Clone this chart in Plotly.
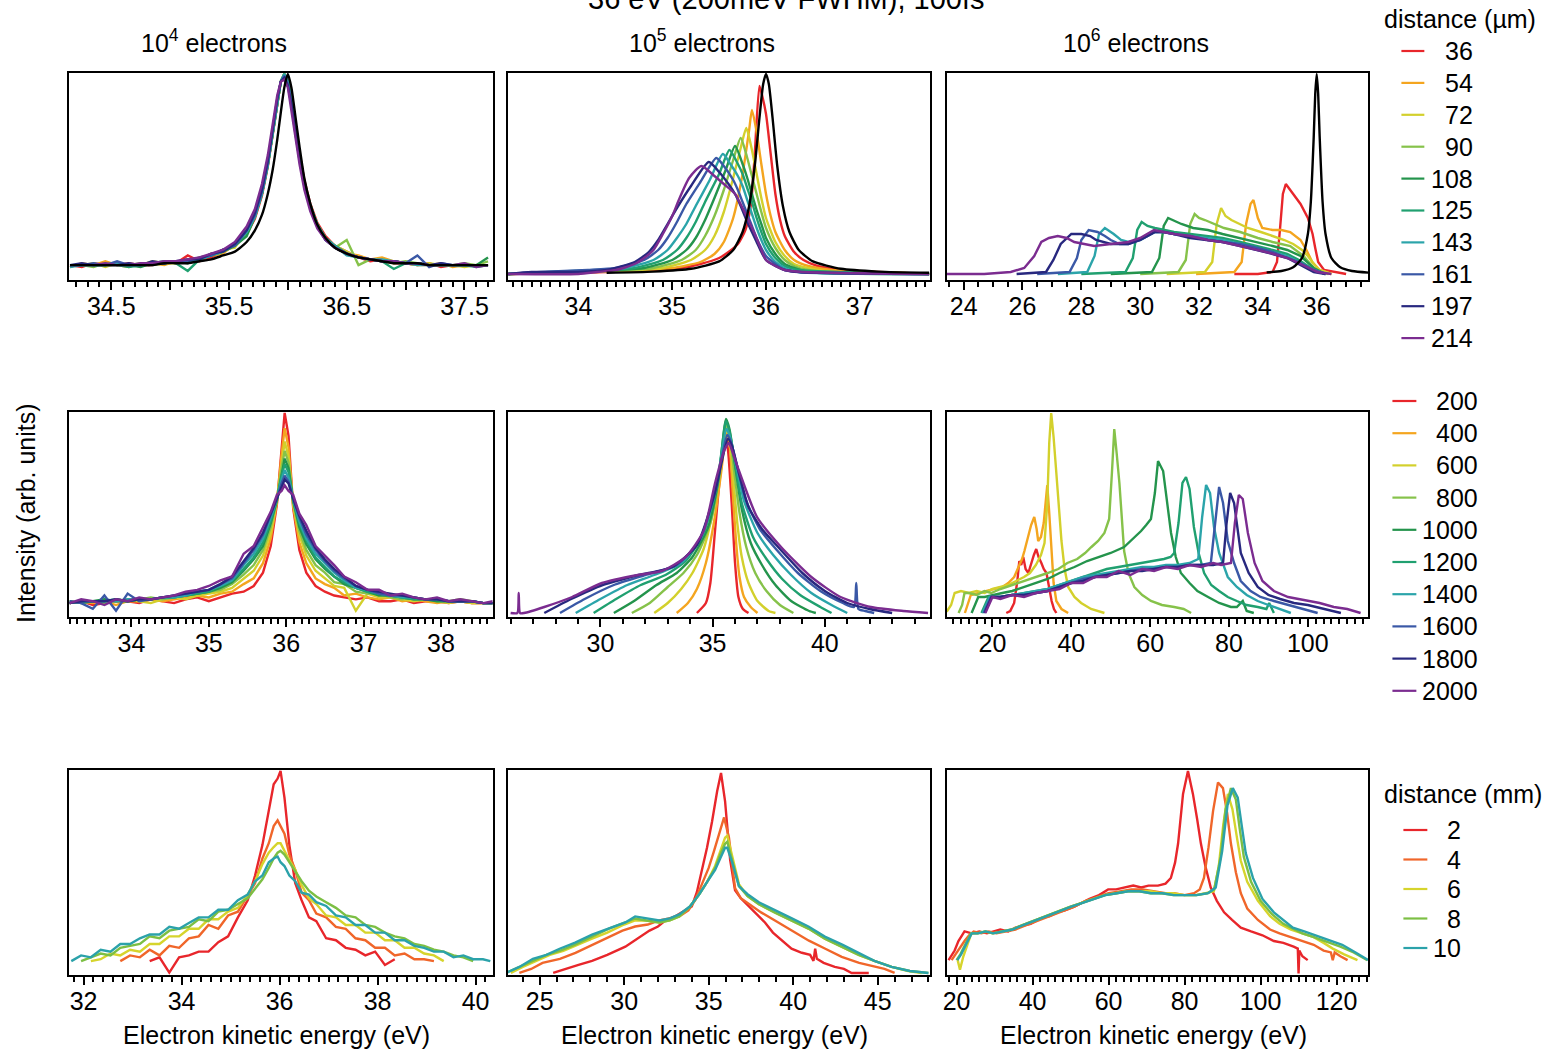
import plotly.graph_objects as go

W, H = 1558, 1053
FONT = "Liberation Sans, Arial, Helvetica, sans-serif"
FS = 25

# ---------------------------------------------------------------- series labels
UM_LABELS = ["36", "54", "72", "90", "108", "125", "143", "161", "197", "214"]
ROW2_LABELS = ["200", "400", "600", "800", "1000", "1200", "1400", "1600", "1800", "2000"]
MM_LABELS = ["2", "4", "6", "8", "10"]
COL_TITLES = ["10<sup>4</sup> electrons", "10<sup>5</sup> electrons", "10<sup>6</sup> electrons"]

RAINBOW10 = ["#e8262b", "#f4a51f", "#d3d02c", "#86c24a", "#24944c",
             "#20a070", "#2ba4aa", "#3a58a6", "#28287f", "#7b2c90"]
RAINBOW5 = ["#e8262b", "#f0662a", "#d6d42c", "#7cbf44", "#2ba2aa"]

# ---------------------------------------------------------------- 10^4 electrons, 36-214 um
A_X = [34.15, 34.25, 34.35, 34.45, 34.55, 34.65, 34.75, 34.85, 34.95, 35.05, 35.15, 35.25, 35.35,
       35.45, 35.55, 35.65, 35.72, 35.78, 35.83, 35.87, 35.91, 35.94, 35.97, 36.0, 36.03, 36.06,
       36.1, 36.14, 36.19, 36.25, 36.32, 36.4, 36.5, 36.6, 36.7, 36.8, 36.9, 37.0, 37.1, 37.2,
       37.3, 37.4, 37.5, 37.6, 37.7]
A_Y = [
    [1, 0, 2, 1, 1, 2, 1, 1, 3, 2, 6, 3, 5, 8, 11, 17, 25, 37, 52, 68, 85, 96, 99, 97, 88, 75, 59, 45, 33, 23, 16, 11, 8, 5, 3, 4, 2, 2, 1, 2, 0, 1, 1, 1, 1],
    [0, 2, 1, 3, 1, 0, 2, 2, 1, 3, 3, 5, 6, 7, 12, 17, 26, 38, 53, 69, 86, 96, 100, 96, 86, 73, 57, 44, 32, 22, 15, 11, 7, 6, 4, 5, 3, 2, 1, 1, 2, 0, 1, 1, 1],
    [1, 1, 2, 0, 2, 1, 1, 3, 2, 2, 4, 4, 6, 9, 10, 19, 26, 39, 54, 70, 86, 96, 100, 96, 86, 73, 57, 44, 32, 22, 15, 11, 8, 5, 4, 3, 3, 2, 1, 2, 1, 1, 0, 1, 1],
    [1, 1, 0, 2, 1, 1, 2, 1, 2, 3, 3, 4, 7, 8, 11, 18, 27, 38, 53, 69, 86, 96, 99, 96, 86, 73, 57, 44, 32, 22, 15, 10, 14, 1, 4, 3, 2, 3, 2, 1, 1, 1, 2, 1, 3],
    [1, 1, 1, 1, 2, 1, 0, 2, 2, 3, 2, 4, 6, 8, 11, 16, 26, 38, 53, 69, 86, 96, 100, 96, 86, 73, 57, 44, 32, 22, 15, 11, 7, 5, 4, 3, 3, 2, 2, 1, 1, 1, 1, 1, 5],
    [1, 1, 1, 1, 1, 0, 1, 2, 3, 2, -2, 4, 6, 9, 11, 18, 26, 38, 53, 69, 86, 96, 100, 96, 86, 73, 57, 44, 32, 22, 15, 11, 7, 5, 4, 3, -1, 2, 2, 1, 1, 1, 1, 0, 1],
    [0, 1, 1, 1, 2, 1, 1, 2, 2, 3, 3, 4, 6, 8, 12, 18, 26, 38, 53, 69, 86, 96, 100, 96, 86, 73, 57, 44, 32, 22, 15, 11, 6, 5, 4, 4, 3, 2, 1, 1, 1, 1, 1, 1, 1],
    [1, 1, 2, 1, 3, 1, 1, 2, 2, 3, 3, 5, 6, 9, 11, 19, 27, 39, 54, 70, 87, 96, 99, 95, 85, 72, 56, 43, 31, 21, 14, 10, 7, 5, 4, 3, 3, 2, 6, 0, 2, 1, 1, 1, 1],
    [1, 2, 1, 1, 1, 2, 1, 3, 2, 3, 4, 4, 7, 8, 12, 19, 28, 40, 55, 71, 87, 96, 98, 94, 84, 71, 55, 42, 31, 21, 14, 10, 7, 5, 4, 3, 3, 2, 2, 1, 2, 1, 1, 1, 1],
    [1, 1, 1, 2, 1, 1, 2, 2, 3, 3, 4, 5, 7, 9, 13, 21, 30, 43, 58, 74, 89, 96, 97, 93, 82, 69, 53, 40, 29, 20, 14, 10, 7, 5, 4, 3, 3, 2, 2, 1, 1, 1, 2, 0, 1],
]
A_REF = [1, 1, 1, 1, 1, 1, 1, 1, 2, 2, 2, 3, 4, 6, 8, 13, 19, 27, 38, 50, 66, 80, 93, 100, 93, 80,
         62, 46, 33, 22, 15, 10, 7, 5, 4, 3, 2, 2, 2, 1, 1, 1, 1, 1, 1]

# ---------------------------------------------------------------- 10^5 electrons, 36-214 um
B_X = [
    [33.25, 34.3, 34.8, 35.1, 35.3, 35.5, 35.6, 35.7, 35.78, 35.84, 35.88, 35.93, 35.96, 36.0, 36.05, 36.1, 36.15, 36.2, 36.3, 36.4, 36.55, 36.8, 37.2, 37.74],
    [33.25, 34.2, 34.7, 35.0, 35.3, 35.45, 35.55, 35.65, 35.75, 35.82, 35.85, 35.9, 35.95, 36.0, 36.05, 36.1, 36.2, 36.3, 36.45, 36.7, 37.1, 37.74],
    [33.25, 34.1, 34.6, 34.9, 35.2, 35.35, 35.45, 35.55, 35.65, 35.73, 35.79, 35.85, 35.9, 35.95, 36.0, 36.1, 36.2, 36.3, 36.45, 36.7, 37.1, 37.74],
    [33.25, 34.0, 34.5, 34.8, 35.1, 35.25, 35.35, 35.45, 35.55, 35.65, 35.73, 35.8, 35.85, 35.9, 35.95, 36.0, 36.1, 36.2, 36.3, 36.45, 36.7, 37.74],
    [33.25, 33.9, 34.4, 34.7, 35.0, 35.15, 35.25, 35.35, 35.45, 35.57, 35.67, 35.75, 35.8, 35.85, 35.9, 35.95, 36.0, 36.1, 36.2, 36.3, 36.45, 37.74],
    [33.25, 33.8, 34.3, 34.6, 34.9, 35.05, 35.15, 35.25, 35.35, 35.5, 35.61, 35.7, 35.75, 35.8, 35.85, 35.9, 35.95, 36.0, 36.1, 36.2, 36.35, 37.74],
    [33.25, 33.7, 34.2, 34.5, 34.8, 34.95, 35.05, 35.15, 35.25, 35.4, 35.54, 35.62, 35.7, 35.75, 35.8, 35.85, 35.9, 35.95, 36.0, 36.1, 36.2, 36.35, 37.74],
    [33.25, 33.6, 34.1, 34.4, 34.7, 34.85, 34.95, 35.05, 35.15, 35.3, 35.47, 35.55, 35.65, 35.7, 35.75, 35.8, 35.85, 35.9, 35.95, 36.0, 36.1, 36.2, 36.35, 37.74],
    [33.25, 33.5, 34.0, 34.3, 34.6, 34.75, 34.85, 34.95, 35.05, 35.2, 35.39, 35.5, 35.6, 35.67, 35.73, 35.8, 35.85, 35.9, 35.95, 36.0, 36.1, 36.2, 36.35, 37.74],
    [33.25, 34.0, 34.2, 34.4, 34.6, 34.7, 34.8, 34.9, 35.0, 35.07, 35.18, 35.31, 35.45, 35.55, 35.67, 35.75, 35.88, 35.95, 36.0, 36.1, 36.2, 36.4, 37.74],
]
B_Y = [
    [0, 1, 2, 3, 5, 8, 11, 15, 22, 35, 60, 94, 89, 80, 60, 40, 27, 19, 11, 7, 4, 2, 1, 0],
    [0, 1, 2, 3, 6, 10, 16, 28, 50, 72, 82, 71, 55, 40, 29, 21, 12, 7, 4, 2, 1, 0],
    [0, 1, 2, 3, 7, 12, 19, 31, 48, 63, 73, 62, 50, 38, 28, 16, 9, 5, 3, 1, 1, 0],
    [0, 1, 2, 3, 7, 12, 19, 29, 42, 57, 68, 58, 49, 40, 31, 23, 13, 7, 4, 2, 1, 0],
    [0, 1, 2, 3, 7, 12, 18, 27, 38, 52, 64, 55, 48, 40, 32, 25, 18, 10, 5, 3, 1, 0],
    [0, 1, 2, 3, 7, 12, 18, 26, 36, 50, 62, 55, 50, 43, 36, 28, 21, 15, 8, 4, 2, 0],
    [0, 1, 2, 3, 7, 12, 18, 25, 34, 47, 60, 55, 49, 44, 37, 30, 23, 17, 12, 6, 3, 1, 0],
    [0, 1, 2, 3, 7, 12, 18, 26, 35, 46, 58, 54, 47, 42, 36, 30, 24, 18, 13, 9, 5, 2, 1, 0],
    [0, 1, 1, 2, 6, 11, 17, 25, 33, 44, 56, 51, 45, 40, 34, 26, 21, 16, 11, 7, 4, 2, 1, 0],
    [0, 0, 1, 2, 5, 8, 12, 20, 29, 37, 48, 54, 49, 45, 40, 33, 20, 12, 7, 4, 2, 1, 0],
]
B_REF_X = [34.3, 34.8, 35.2, 35.5, 35.65, 35.75, 35.82, 35.88, 35.93, 35.97, 36.0, 36.03, 36.07,
           36.12, 36.18, 36.25, 36.35, 36.5, 36.8, 37.2, 37.74]
B_REF_Y = [0.6, 1.2, 2.6, 6.3, 12, 21, 34, 54, 78, 95, 100, 95, 78, 54, 34, 21, 12, 6.3, 2.6, 1.2, 0.6]

# ---------------------------------------------------------------- 10^6 electrons, 36-214 um
C_X = [
    [33.2, 34.0, 34.5, 34.65, 34.75, 34.85, 34.95, 35.05, 35.2, 35.45, 35.7, 35.86, 35.95, 36.05, 36.25, 36.6, 37.0],
    [31.9, 33.2, 33.45, 33.6, 33.75, 33.85, 34.0, 34.15, 34.5, 34.8, 35.1, 35.45, 35.65, 35.85, 36.1, 36.5],
    [30.9, 32.2, 32.45, 32.6, 32.75, 32.9, 33.1, 33.4, 33.66, 34.1, 34.5, 34.9, 35.2, 35.5, 35.7, 35.9, 36.1, 36.5],
    [30.0, 31.3, 31.55, 31.7, 31.85, 32.0, 32.2, 32.5, 32.85, 33.4, 34.0, 34.5, 35.1, 35.55, 35.9, 36.1, 36.4],
    [29.0, 30.4, 30.65, 30.8, 30.95, 31.1, 31.4, 31.8, 32.3, 32.8, 33.4, 34.0, 34.5, 35.0, 35.45, 35.9, 36.3],
    [28.0, 29.5, 29.75, 29.9, 30.05, 30.25, 30.5, 30.8, 31.15, 31.7, 32.3, 32.8, 33.4, 34.0, 34.5, 35.0, 35.4, 35.9, 36.3],
    [27.2, 28.2, 28.45, 28.6, 28.8, 29.1, 29.35, 29.6, 30.0, 30.5, 30.8, 31.15, 31.7, 32.3, 32.8, 33.4, 34.0, 34.5, 35.0, 35.4, 35.9, 36.3],
    [26.5, 27.6, 27.85, 28.0, 28.25, 28.55, 28.8, 29.0, 29.3, 29.6, 30.0, 30.5, 30.8, 31.15, 31.7, 32.3, 32.8, 33.4, 34.0, 34.5, 35.0, 35.4, 35.9, 36.3],
    [25.8, 26.8, 27.05, 27.3, 27.66, 28.0, 28.3, 28.5, 29.0, 29.6, 30.0, 30.5, 30.8, 31.15, 31.7, 32.3, 32.8, 33.4, 34.0, 34.5, 35.0, 35.4, 35.9, 36.3],
    [23.42, 24.7, 25.6, 26.06, 26.4, 26.64, 26.9, 27.2, 27.5, 27.76, 28.1, 28.44, 29.0, 29.6, 30.0, 30.47, 30.8, 31.15, 31.7, 32.3, 32.8, 33.42, 34.0, 34.54, 35.0, 35.45, 36.03, 36.5],
]
C_Y = [
    [0, 0, 1, 6, 22, 40, 45, 43, 40, 35, 28, 20, 13, 6, 2, 1, 0],
    [0, 1, 6, 25, 35, 37, 28, 23, 22, 22, 21, 17, 12, 6, 2, 0],
    [0, 1, 6, 25, 33, 29, 27, 25, 23, 21, 19, 17, 15, 12, 9, 5, 2, 0],
    [0, 1, 7, 25, 30, 28, 27, 25, 23, 21, 18, 16, 14, 9, 3, 1, 0],
    [0, 1, 8, 24, 28, 27, 25, 23, 22, 20, 18, 16, 14, 12, 9, 3, 0],
    [0, 1, 8, 22, 26, 24, 23, 22, 21, 20, 19, 18, 16, 14, 12, 10, 7, 2, 0],
    [0, 1, 9, 20, 23, 20, 17, 16, 17, 21, 21, 20, 19, 18, 17, 15, 13, 11, 9, 6, 2, 0],
    [0, 1, 8, 17, 22, 21, 19, 17, 15, 15, 17, 21, 21, 20, 19, 17, 16, 15, 13, 11, 8, 6, 2, 0],
    [0, 1, 7, 15, 20, 20, 19, 17, 15, 15, 17, 21, 21, 20, 18, 17, 16, 14, 12, 10, 8, 5, 1, 0],
    [0, 0, 1, 3, 9, 16, 18, 19, 18, 16, 15, 14, 15, 16, 18, 22, 21, 20, 19, 17, 16, 14, 12, 10, 8, 5, 1, 0],
]
C_REF_X = [34.3, 34.8, 35.2, 35.5, 35.7, 35.8, 35.9, 35.95, 36.0, 36.05, 36.1, 36.2, 36.3, 36.5, 36.8, 37.2, 37.76]
C_REF_Y = [0.8, 1.5, 3.4, 8, 20, 36, 69, 90, 100, 90, 69, 36, 20, 8, 3.4, 1.5, 0.7]

# ---------------------------------------------------------------- 10^4 electrons, 200-2000
D_X = [33.2, 33.35, 33.5, 33.65, 33.8, 33.95, 34.1, 34.25, 34.4, 34.55, 34.7, 34.85, 35.0, 35.15,
       35.3, 35.45, 35.58, 35.7, 35.8, 35.88, 35.94, 35.98, 36.03, 36.09, 36.17, 36.26, 36.38,
       36.5, 36.62, 36.75, 36.9, 37.05, 37.2, 37.35, 37.5, 37.65, 37.8, 37.95, 38.1, 38.25, 38.4,
       38.55, 38.67]
D_Y = [
    [0, 1, -1, 0, 1, 1, 0, 2, 1, 0, 2, 3, 1, 3, 5, 6, 9, 16, 30, 52, 82, 100, 88, 50, 28, 16, 9, 6, 4, 3, 2, 3, 1, 1, 2, 0, 1, 1, 0, 1, 0, 0, 0],
    [0, 1, 0, 1, -1, 1, 1, 2, 1, 2, 3, 4, 3, 5, 6, 10, 13, 21, 34, 53, 78, 92, 82, 51, 32, 21, 13, 10, 8, 4, 5, 3, 2, 3, 1, 2, 1, 0, 1, 1, 0, 0, 0],
    [1, 0, 1, 0, 1, 2, 1, 0, 2, 3, 2, 4, 5, 6, 8, 13, 17, 25, 37, 54, 74, 85, 77, 52, 36, 25, 17, 13, 9, 8, -4, 5, 3, 3, 2, 1, 2, 1, 0, 1, 0, 0, 0],
    [0, 1, 1, 0, 2, 1, 2, 3, 2, 3, 4, 5, 6, 7, 10, 15, 20, 28, 40, 54, 71, 80, 74, 53, 38, 28, 20, 16, 11, 10, 6, 5, 5, 3, 2, 3, 2, 1, 1, 2, 1, 0, 0],
    [0, 1, 1, 2, 1, 1, 2, 2, 3, 3, 4, 5, 6, 8, 11, 17, 23, 30, 42, 54, 68, 76, 71, 54, 40, 31, 23, 18, 14, 10, 8, 6, 4, 4, 3, 2, 2, 1, 1, 1, 1, 0, 0],
    [1, 0, 1, 1, 2, 1, 2, 2, 3, 3, 4, 5, 6, 9, 12, 18, 24, 32, 43, 55, 67, 73, 69, 54, 42, 33, 24, 19, 14, 11, 8, 6, 5, 4, 3, 2, 2, 2, 1, 1, 1, 0, 0],
    [0, 1, 1, 1, 1, 2, 2, 2, 3, 3, 4, 6, 7, 9, 12, 20, 26, 34, 45, 55, 65, 70, 66, 55, 43, 34, 26, 21, 16, 12, 8, 7, 5, 4, 3, 3, 2, 2, 1, 1, 1, 0, 0],
    [1, 0, -3, 4, -4, 5, 1, 2, 3, 4, 5, 6, 7, 10, 13, 21, 28, 36, 46, 55, 63, 67, 64, 55, 45, 36, 28, 22, 17, 13, 9, 7, 5, 4, 4, 3, 2, 2, 1, 1, 1, 0, 0],
    [0, 1, 1, 1, 2, 1, 2, 2, 3, 4, 5, 6, 7, 10, 14, 22, 29, 37, 47, 56, 62, 65, 63, 55, 46, 38, 29, 23, 18, 14, 9, 7, 6, 5, 4, 3, 2, 2, 1, 1, 1, 0, 0],
    [0, 2, 1, -1, 2, 1, 3, 2, 3, 4, 6, 7, 9, 12, 14, 26, 30, 40, 48, 57, 59, 62, 59, 57, 47, 41, 30, 25, 20, 14, 11, 7, 7, 4, 5, 3, 2, 3, 1, 2, 1, 0, 1],
]

# ---------------------------------------------------------------- 10^5 electrons, 200-2000
E_X = [
    [34.3, 34.7, 34.9, 35.1, 35.3, 35.5, 35.6, 35.7, 35.85, 36.0, 36.15, 36.35, 36.6],
    [33.4, 33.9, 34.3, 34.7, 35.1, 35.4, 35.6, 35.75, 35.9, 36.05, 36.2, 36.4, 36.7, 37.0],
    [32.4, 33.0, 33.6, 34.1, 34.6, 35.0, 35.35, 35.6, 35.75, 35.9, 36.1, 36.3, 36.6, 37.0, 37.5, 37.8],
    [31.4, 32.2, 33.0, 33.7, 34.3, 34.9, 35.3, 35.6, 35.75, 35.95, 36.2, 36.5, 36.9, 37.4, 38.0, 38.6],
    [30.6, 31.5, 32.5, 33.4, 34.1, 34.8, 35.25, 35.6, 35.75, 36.0, 36.3, 36.7, 37.2, 37.8, 38.5, 39.3, 39.6],
    [29.7, 30.7, 31.8, 32.9, 33.8, 34.6, 35.2, 35.6, 35.75, 36.0, 36.3, 36.8, 37.4, 38.1, 38.9, 39.8, 40.3],
    [28.9, 30.0, 31.2, 32.4, 33.6, 34.5, 35.15, 35.62, 35.78, 36.05, 36.4, 37.0, 37.7, 38.5, 39.4, 40.3, 41.0],
    [28.2, 29.3, 30.6, 32.0, 33.4, 34.4, 35.1, 35.65, 35.8, 36.1, 36.5, 37.1, 37.9, 38.8, 39.8, 40.8, 41.3, 41.4, 41.5, 41.8, 42.2],
    [27.5, 28.7, 30.1, 31.7, 33.2, 34.3, 35.1, 35.68, 35.85, 36.15, 36.6, 37.2, 38.0, 39.0, 40.0, 41.0, 42.0, 43.0],
    [26.0, 26.3, 26.36, 26.42, 26.6, 27.5, 28.74, 30.07, 31.67, 32.74, 33.8, 34.6, 35.11, 35.51, 35.72, 35.9, 36.18, 36.98, 38.05, 39.4, 40.7, 42.05, 43.5, 44.6],
]
E_Y = [
    [0, 5, 15, 40, 65, 82, 88, 80, 55, 25, 8, 2, 0],
    [0, 5, 12, 25, 48, 72, 90, 85, 60, 35, 18, 8, 3, 0],
    [0, 5, 12, 20, 32, 50, 72, 92, 88, 70, 45, 28, 15, 6, 1, 0],
    [0, 5, 13, 20, 29, 45, 68, 94, 90, 72, 50, 33, 20, 11, 4, 0],
    [0, 6, 14, 20, 28, 43, 66, 97, 92, 74, 52, 35, 24, 14, 6, 1, 0],
    [0, 7, 14, 19, 26, 40, 64, 96, 91, 75, 55, 38, 27, 17, 9, 3, 0],
    [0, 7, 14, 19, 25, 38, 62, 92, 88, 74, 56, 40, 29, 19, 10, 4, 0],
    [0, 7, 14, 19, 24, 36, 60, 89, 86, 73, 56, 42, 31, 20, 11, 5, 3, 15, 2, 1, 0],
    [0, 7, 14, 19, 23, 34, 60, 87, 84, 71, 53, 42, 32, 20, 11, 5, 2, 0],
    [0, 0, 10, 0, 0, 3, 8, 15, 19, 21, 28, 41, 65, 81, 85, 80, 71, 48, 33, 18, 8, 3, 1, 0],
]

# ---------------------------------------------------------------- 10^6 electrons, 200-2000
F_X = [
    [23.5, 24.5, 25.5, 26.3, 26.8, 27.3, 27.8, 28.4, 29.1, 29.8, 30.5, 31.1, 31.7, 32.4, 33.0, 33.7, 34.3, 35.0, 35.6, 36.2],
    [13.0, 14.5, 16.5, 18.5, 20.5, 22.5, 24.0, 25.5, 26.6, 27.5, 28.1, 29.0, 29.8, 30.6, 31.2, 31.6, 32.3, 33.0, 33.5, 33.9, 34.4, 34.9, 35.5, 36.2, 37.5, 39.2],
    [7.0, 8.5, 9.5, 10.4, 12.0, 14.0, 16.0, 18.0, 20.0, 22.0, 24.0, 26.0, 28.0, 29.5, 31.0, 32.3, 33.2, 33.9, 34.4, 34.9, 35.5, 36.2, 36.9, 37.5, 38.3, 39.2, 40.8, 42.5, 45.0, 48.4],
    [11.4, 12.3, 12.9, 14.0, 16.0, 18.0, 19.7, 22.0, 25.0, 28.1, 31.0, 34.0, 36.7, 39.0, 41.5, 43.5, 45.1, 46.8, 48.4, 49.6, 50.3, 50.9, 51.5, 52.2, 53.4, 54.5, 56.0, 58.0, 60.2, 63.0, 66.1, 68.5, 70.4],
    [14.7, 15.6, 16.4, 18.0, 20.0, 22.5, 25.0, 28.1, 31.0, 34.0, 37.0, 40.8, 44.0, 47.0, 50.0, 53.4, 55.5, 57.7, 59.0, 60.2, 61.2, 62.0, 63.3, 64.3, 65.3, 66.5, 67.8, 70.0, 72.0, 74.7, 77.5, 80.5, 82.0, 83.5, 84.5, 86.3],
    [17.2, 18.2, 19.0, 22.0, 25.0, 28.0, 31.0, 34.0, 37.0, 40.0, 43.0, 46.0, 49.0, 52.0, 55.0, 58.0, 61.0, 63.5, 65.2, 66.1, 67.2, 68.2, 69.1, 70.0, 71.1, 72.3, 73.7, 75.5, 77.5, 79.7, 82.0, 84.5, 87.3, 89.5, 90.2, 91.4],
    [17.5, 18.5, 19.3, 22.0, 25.0, 28.0, 31.0, 34.0, 37.0, 40.0, 43.0, 46.0, 49.0, 52.0, 55.0, 58.0, 61.0, 64.0, 67.0, 70.0, 72.2, 73.2, 74.2, 75.2, 76.2, 77.5, 79.7, 82.0, 84.5, 87.3, 90.0, 93.0, 95.7],
    [17.8, 18.8, 19.6, 22.0, 25.0, 28.0, 31.0, 34.0, 37.0, 40.0, 43.0, 46.0, 49.0, 52.0, 55.0, 58.0, 61.0, 64.0, 67.0, 70.0, 73.0, 75.4, 76.5, 77.5, 78.5, 79.7, 81.3, 83.0, 85.5, 88.0, 91.4, 95.0, 99.0, 102.5],
    [18.0, 19.0, 19.8, 22.0, 25.0, 28.0, 31.0, 34.0, 37.0, 40.0, 43.0, 46.0, 49.0, 52.0, 55.0, 58.0, 61.0, 64.0, 67.0, 70.0, 73.0, 76.0, 78.5, 79.4, 80.3, 81.3, 83.0, 85.0, 87.3, 90.0, 93.0, 96.5, 100.0, 104.0, 108.4],
    [18.2, 19.2, 20.0, 22.0, 25.0, 28.0, 31.0, 34.0, 37.0, 40.0, 43.0, 46.0, 49.0, 52.0, 55.0, 58.0, 61.0, 64.0, 67.0, 70.0, 73.0, 76.0, 78.0, 80.5, 81.5, 82.5, 83.5, 84.8, 86.5, 88.5, 91.4, 95.0, 100.0, 103.0, 106.6, 110.0, 113.4],
]
F_Y = [
    [0, 1, 5, 16, 26, 24, 28, 22, 20, 25, 29, 32, 28, 25, 22, 20, 14, 6, 2, 0],
    [0, 9, 10, 11, 12, 13, 15, 18, 23, 27, 31, 38, 44, 48, 42, 36, 38, 45, 56, 64, 50, 31, 15, 6, 2, 0],
    [0, 1, 4, 10, 11, 10, 11, 10, 12, 13, 14, 16, 18, 20, 24, 29, 35, 55, 85, 100, 88, 70, 50, 36, 22, 13, 8, 5, 2, 0],
    [0, 4, 10, 10, 9, 11, 10, 12, 14, 16, 18, 20, 22, 25, 27, 30, 33, 36, 40, 47, 70, 92, 80, 65, 31, 20, 13, 9, 6, 4, 3, 2, 0],
    [0, 4, 8, 8, 9, 10, 11, 13, 15, 17, 20, 23, 26, 28, 30, 33, 37, 41, 44, 47, 60, 76, 71, 55, 40, 28, 20, 15, 11, 8, 5, 3, 3, 6, 1, 0],
    [0, 4, 8, 8, 9, 10, 11, 12, 14, 16, 18, 20, 22, 23, 24, 25, 26, 27, 28, 30, 45, 65, 68, 62, 43, 30, 20, 14, 11, 8, 6, 4, 3, 2, 5, 0],
    [0, 4, 8, 8, 9, 10, 11, 12, 14, 16, 18, 19, 20, 21, 22, 23, 23, 24, 24, 25, 27, 48, 64, 60, 43, 30, 18, 13, 9, 6, 4, 2, 0],
    [0, 4, 8, 8, 9, 9, 10, 11, 13, 15, 17, 18, 19, 20, 21, 22, 22, 23, 23, 24, 24, 25, 45, 63, 55, 36, 25, 16, 11, 8, 6, 4, 2, 0],
    [0, 4, 8, 8, 9, 9, 10, 11, 13, 15, 16, 18, 19, 20, 21, 21, 22, 23, 23, 24, 24, 24, 25, 45, 60, 55, 30, 20, 13, 9, 7, 5, 4, 2, 0],
    [0, 4, 8, 7, 9, 8, 10, 11, 12, 15, 15, 18, 18, 21, 19, 22, 21, 23, 22, 24, 23, 25, 24, 25, 45, 59, 57, 40, 25, 16, 11, 8, 6, 5, 3, 2, 0],
]

# ---------------------------------------------------------------- 10^4 electrons, 2-10 mm
G_X = [31.75, 31.95, 32.15, 32.35, 32.55, 32.75, 32.95, 33.15, 33.35, 33.55, 33.75, 33.95, 34.15,
       34.35, 34.55, 34.75, 34.95, 35.15, 35.35, 35.5, 35.65, 35.78, 35.88, 35.96, 36.02, 36.1,
       36.2, 36.32, 36.45, 36.6, 36.75, 36.95, 37.15, 37.35, 37.55, 37.75, 37.95, 38.15, 38.35,
       38.55, 38.75, 38.95, 39.15, 39.35, 39.55, 39.75, 39.95, 40.15, 40.3]
N = None
G_Y = [
    [N, N, N, N, N, N, N, N, 0, 2, -6, 2, 3, 5, 5, 10, 13, 23, 32, 45, 61, 80, 93, 96, 100, 86, 61, 41, 32, 23, 21, 12, 11, 7, 6, 3, 5, -2, 1, N, N, N, N, N, N, N, N, N, N],
    [N, N, N, N, N, 0, 3, 2, 6, 3, 8, 7, 12, 13, 19, 17, 24, 26, 35, 41, 54, 62, 71, 74, 71, 67, 56, 48, 36, 32, 25, 23, 18, 17, 12, 11, 7, 7, 3, 4, 1, 1, 0, N, N, N, N, N, N],
    [N, N, 0, 1, 4, 3, 6, 5, 9, 9, 13, 13, 17, 17, 22, 22, 26, 28, 35, 42, 51, 57, 60, 62, 62, 58, 53, 48, 40, 33, 30, 24, 23, 19, 19, 15, 15, 11, 11, 7, 7, 4, 3, 0, N, N, N, N, N],
    [N, 0, 2, 4, 3, 7, 8, 9, 13, 12, 16, 17, 18, 22, 21, 26, 27, 30, 33, 38, 43, 49, 54, 57, 58, 56, 52, 47, 42, 37, 34, 31, 28, 24, 23, 19, 18, 15, 13, 12, 9, 8, 6, 5, 3, 2, 0, N, N],
    [0, 3, 2, 6, 5, 9, 9, 12, 14, 14, 18, 17, 20, 23, 23, 27, 27, 32, 35, 42, 45, 52, 54, 55, 52, 50, 45, 42, 36, 35, 31, 29, 24, 23, 19, 19, 15, 15, 11, 11, 8, 7, 5, 5, 2, 3, 1, 1, 0],
]

# ---------------------------------------------------------------- 10^5 electrons, 2-10 mm
H_X = [
    [25.8, 26.5, 27.3, 28.1, 29.0, 30.07, 30.8, 31.5, 32.0, 32.43, 33.0, 33.43, 34.0, 34.3, 34.62, 34.9, 35.2, 35.5, 35.73, 35.97, 36.27, 36.56, 36.9, 37.39, 37.9, 38.33, 38.8, 39.34, 39.9, 40.51, 41.0, 41.2, 41.3, 41.4, 41.8, 42.46, 43.0, 43.46, 44.47],
    [23.8, 24.5, 25.17, 26.2, 27.12, 28.1, 29.13, 29.9, 30.65, 31.4, 32.08, 32.7, 33.26, 33.8, 34.2, 34.6, 35.0, 35.3, 35.6, 35.91, 36.2, 36.56, 36.9, 37.39, 38.1, 38.92, 39.9, 40.93, 41.9, 42.87, 43.9, 44.82, 45.4, 46.0],
    [23.3, 24.0, 24.8, 25.6, 26.4, 27.2, 28.1, 29.0, 30.0, 30.65, 31.3, 32.08, 32.7, 33.26, 33.9, 34.44, 34.9, 35.38, 35.7, 35.97, 36.1, 36.38, 36.79, 37.3, 37.97, 38.9, 39.92, 40.9, 41.87, 42.9, 43.87, 44.8, 45.82, 46.8, 47.6],
    [23.0, 23.8, 24.6, 25.4, 26.18, 27.1, 28.1, 29.1, 30.07, 30.65, 31.3, 32.08, 32.7, 33.26, 33.9, 34.44, 34.9, 35.38, 35.7, 35.97, 36.1, 36.38, 36.79, 37.3, 37.97, 38.9, 39.92, 40.9, 41.87, 42.9, 43.87, 44.8, 45.82, 46.9, 48.0],
    [23.0, 23.8, 24.6, 25.4, 26.18, 27.1, 28.1, 29.1, 30.07, 30.65, 31.3, 32.08, 32.7, 33.26, 33.9, 34.44, 34.9, 35.38, 35.7, 35.97, 36.1, 36.38, 36.79, 37.3, 37.97, 38.9, 39.92, 40.9, 41.87, 42.9, 43.87, 44.8, 45.82, 46.9, 48.0],
]
H_Y = [
    [0, 2, 4, 6, 9, 13, 17, 21, 23, 26, 28, 30, 33, 40, 51, 62, 75, 90, 99, 85, 56, 41, 37, 33, 29, 25, 20, 16, 12, 10, 9, 6, 12, 7, 5, 3, 2, 0, 0],
    [0, 2, 5, 7, 10, 14, 18, 21, 23, 24, 26, 27, 28, 31, 36, 44, 52, 60, 69, 77, 67, 42, 37, 34, 30, 26, 21, 16, 12, 8, 5, 3, 2, 0],
    [0, 3, 6, 9, 11, 14, 17, 20, 24, 26, 26, 25, 26, 28, 33, 39, 45, 53, 61, 67, 68, 58, 44, 38, 34, 30, 26, 22, 17, 13, 9, 6, 3, 1, 0],
    [0, 3, 6, 9, 11, 14, 18, 22, 25, 27, 26, 25, 26, 28, 33, 39, 45, 52, 59, 64, 65, 56, 43, 38, 34, 30, 26, 22, 17, 13, 9, 6, 3, 1, 0],
    [0, 3, 7, 9, 12, 15, 19, 22, 25, 28, 27, 26, 27, 29, 33, 39, 45, 51, 57, 62, 62, 55, 43, 39, 35, 31, 27, 23, 18, 14, 10, 6, 3, 1, 0],
]

# ---------------------------------------------------------------- 10^6 electrons, 2-10 mm
I_X = [
    [17.9, 19.5, 20.5, 22.1, 24.0, 26.0, 28.0, 30.0, 31.5, 33.6, 35.5, 37.5, 39.5, 42.3, 44.5, 46.5, 48.5, 51.0, 53.0, 55.0, 57.5, 59.9, 62.0, 64.5, 66.5, 68.6, 70.5, 73.0, 75.0, 76.4, 77.5, 78.3, 79.0, 79.6, 80.9, 82.2, 83.3, 84.3, 85.5, 86.9, 88.5, 90.4, 92.5, 94.8, 97.5, 100.5, 103.5, 106.0, 108.7, 109.8, 110.0, 110.2, 111.0, 112.4],
    [18.7, 20.3, 22.1, 23.3, 24.5, 26.5, 28.5, 30.5, 33.0, 35.5, 38.0, 40.5, 43.0, 45.5, 48.0, 51.0, 54.0, 57.0, 60.0, 63.0, 66.0, 69.0, 72.0, 75.0, 77.2, 80.0, 82.5, 84.0, 85.1, 86.3, 87.5, 88.8, 90.1, 91.2, 92.2, 93.5, 94.8, 96.5, 99.3, 102.5, 105.0, 108.0, 111.0, 114.0, 116.6, 118.5, 119.0, 119.5, 121.0, 122.9],
    [20.3, 20.9, 21.8, 22.8, 23.9, 25.5, 27.5, 29.5, 32.0, 34.5, 37.0, 39.5, 42.0, 44.5, 47.0, 50.0, 53.0, 56.0, 59.0, 62.0, 65.0, 68.0, 71.0, 74.0, 77.0, 80.0, 83.0, 85.5, 87.7, 89.0, 90.2, 91.4, 92.6, 93.8, 94.8, 96.5, 99.3, 102.5, 105.0, 108.0, 111.0, 114.0, 116.6, 119.0, 122.0, 125.5],
    [20.0, 21.0, 22.5, 23.8, 25.5, 27.5, 29.5, 32.0, 34.5, 37.0, 39.5, 42.0, 44.5, 47.0, 50.0, 53.0, 56.0, 59.0, 62.0, 65.0, 68.0, 71.0, 74.0, 77.0, 80.0, 83.0, 86.0, 87.8, 89.5, 90.8, 92.2, 93.5, 94.5, 95.6, 97.5, 100.0, 103.0, 106.0, 108.0, 111.0, 114.0, 117.0, 121.0, 124.5, 128.1],
    [20.2, 21.2, 22.7, 24.0, 25.7, 27.7, 29.7, 32.2, 34.7, 37.2, 39.7, 42.2, 44.7, 47.2, 50.2, 53.2, 56.2, 59.2, 62.2, 65.2, 68.2, 71.2, 74.2, 77.2, 80.2, 83.2, 86.2, 88.2, 89.9, 91.3, 92.7, 94.0, 95.0, 96.1, 98.0, 100.5, 103.5, 106.5, 108.5, 111.5, 114.5, 117.5, 121.5, 125.0, 128.3],
]
I_Y = [
    [1, 6, 11, 16, 15, 16, 15, 16, 17, 16, 18, 19, 20, 23, 24, 26, 27, 29, 31, 33, 35, 38, 38, 39, 40, 39, 40, 40, 41, 44, 52, 62, 75, 88, 100, 88, 75, 62, 50, 39, 32, 26, 22, 18, 16, 14, 11, 10, 8, 7, -6, 6, 3, 1],
    [1, 6, 11, 14, 16, 15, 16, 15, 16, 17, 19, 21, 23, 25, 27, 29, 32, 34, 36, 37, 38, 38, 37, 36, 36, 35, 36, 38, 44, 60, 79, 94, 91, 78, 62, 47, 36, 28, 22, 17, 15, 13, 11, 9, 6, 5, 1, 5, 3, 1],
    [1, -4, 3, 9, 15, 15, 16, 15, 16, 17, 19, 21, 23, 25, 27, 29, 31, 33, 35, 36, 37, 37, 37, 36, 36, 35, 35, 36, 37, 50, 72, 88, 80, 65, 53, 42, 32, 24, 20, 17, 15, 13, 10, 7, 4, 1],
    [1, 4, 10, 15, 15, 16, 15, 16, 17, 19, 21, 23, 25, 27, 29, 31, 33, 35, 36, 37, 37, 36, 36, 35, 35, 35, 36, 38, 55, 80, 91, 85, 70, 55, 42, 32, 25, 20, 18, 15, 13, 11, 8, 5, 1],
    [1, 4, 10, 15, 15, 16, 15, 16, 17, 19, 21, 23, 25, 27, 29, 31, 33, 35, 36, 37, 37, 36, 36, 35, 35, 35, 36, 39, 58, 82, 91, 86, 72, 57, 44, 33, 26, 21, 18, 16, 14, 12, 9, 5, 1],
]

# ---------------------------------------------------------------- panel frames (pixels) and axes
COL_PX = [(65, 490), (505, 928), (945, 1368)]
ROW_PX = [(73, 280), (412, 617), (770, 975)]

AXES = [
    dict(xr=[34.14, 37.74], yr=[-6.7, 100.5], tickvals=[34.5, 35, 35.5, 36, 36.5, 37, 37.5],
         ticktext=["34.5", " ", "35.5", " ", "36.5", " ", "37.5"], minor=0.1, minor0=34.0),
    dict(xr=[33.245, 37.745], yr=[-3.0, 100.5], dtick=1, tick0=34, minor=0.1, minor0=33.0),
    dict(xr=[23.42, 37.76], yr=[-3.0, 100.5], dtick=2, tick0=24, minor=0.5, minor0=23.0),
    dict(xr=[33.19, 38.67], yr=[-7.3, 100.5], dtick=1, tick0=34, minor=0.1, minor0=33.0),
    dict(xr=[25.87, 44.67], yr=[-2.0, 100.5], dtick=5, tick0=30, minor=1, minor0=25.0),
    dict(xr=[8.35, 115.4], yr=[-2.0, 100.5], dtick=20, tick0=20, minor=2, minor0=8.0),
    dict(xr=[31.70, 40.35], yr=[-7.3, 100.5], dtick=2, tick0=32, minor=0.2, minor0=31.0),
    dict(xr=[23.11, 48.07], yr=[-1.0, 100.5], dtick=5, tick0=25, minor=1, minor0=23.0),
    dict(xr=[17.38, 128.4], yr=[-6.8, 100.5], dtick=20, tick0=20, minor=2, minor0=16.0),
]


def fx(px):
    return px / W


def fy(py):
    return 1 - py / H


fig = go.Figure()


def add_line(panel, x, y, color, shape="linear"):
    n = panel + 1
    fig.add_trace(go.Scatter(
        x=x, y=y, mode="lines",
        line=dict(color=color, width=2.4, shape=shape, smoothing=0.6 if shape == "spline" else None),
        xaxis="x" if n == 1 else f"x{n}", yaxis="y" if n == 1 else f"y{n}",
        hoverinfo="skip", showlegend=False, connectgaps=False))


# row 1
for k in range(10):
    add_line(0, A_X, A_Y[k], RAINBOW10[k])
add_line(0, A_X, A_REF, "black", "spline")
for k in range(10):
    add_line(1, B_X[k], B_Y[k], RAINBOW10[k], "spline")
add_line(1, B_REF_X, B_REF_Y, "black", "spline")
for k in range(10):
    add_line(2, C_X[k], C_Y[k], RAINBOW10[k])
add_line(2, C_REF_X, C_REF_Y, "black", "spline")
# row 2
for k in range(10):
    add_line(3, D_X, D_Y[k], RAINBOW10[k])
for k in range(10):
    add_line(4, E_X[k], E_Y[k], RAINBOW10[k], "spline")
for k in range(10):
    add_line(5, F_X[k], F_Y[k], RAINBOW10[k])
# row 3
for k in range(5):
    add_line(6, G_X, G_Y[k], RAINBOW5[k])
for k in range(5):
    add_line(7, H_X[k], H_Y[k], RAINBOW5[k])
for k in range(5):
    add_line(8, I_X[k], I_Y[k], RAINBOW5[k])

layout = dict(width=W, height=H, margin=dict(l=0, r=0, t=0, b=0),
              paper_bgcolor="white", plot_bgcolor="white", showlegend=False,
              font=dict(family=FONT, size=FS, color="black"))

for i, spec in enumerate(AXES):
    n = i + 1
    r, c = divmod(i, 3)
    xa = "xaxis" if n == 1 else f"xaxis{n}"
    ya = "yaxis" if n == 1 else f"yaxis{n}"
    xd = dict(domain=[fx(COL_PX[c][0]), fx(COL_PX[c][1])], range=spec["xr"],
              anchor="y" if n == 1 else f"y{n}",
              showline=True, mirror=True, linecolor="black", linewidth=2.2,
              ticks="outside", ticklen=8, tickwidth=2, tickcolor="black",
              showgrid=False, zeroline=False, ticklabelstandoff=-5,
              tickfont=dict(family=FONT, size=FS, color="black"),
              minor=dict(ticks="outside", ticklen=5, tickwidth=1.5, tickcolor="black",
                         dtick=spec["minor"], tick0=spec["minor0"], showgrid=False))
    if "tickvals" in spec:
        xd.update(tickmode="array", tickvals=spec["tickvals"], ticktext=spec["ticktext"])
    else:
        xd.update(tickmode="linear", dtick=spec["dtick"], tick0=spec["tick0"])
    layout[xa] = xd
    layout[ya] = dict(domain=[fy(ROW_PX[r][1]), fy(ROW_PX[r][0])], range=spec["yr"],
                      anchor="x" if n == 1 else f"x{n}",
                      showline=True, mirror=True, linecolor="black", linewidth=2.2,
                      ticks="", showticklabels=False, showgrid=False, zeroline=False)

annotations = []
shapes = []


def text(x, y, s, size=FS, xanchor="center", yanchor="middle", angle=0):
    annotations.append(dict(x=fx(x), y=fy(y), xref="paper", yref="paper", text=s,
                            showarrow=False, xanchor=xanchor, yanchor=yanchor, textangle=angle,
                            font=dict(family=FONT, size=size, color="black")))


# titles
text(784, -1, "36 eV (200meV FWHM), 100fs", size=29)
for cx, t in zip([211, 700, 1135], COL_TITLES):
    text(cx, 41, t)
text(22, 513, "Intensity (arb. units)", angle=-90)
for c in range(3):
    text((COL_PX[c][0] + COL_PX[c][1]) / 2 - 4, 1035, "Electron kinetic energy (eV)")


# legends
def legend(labels, colors, ys, x0, x1, xr):
    for lab, col, yy in zip(labels, colors, ys):
        shapes.append(dict(type="line", xref="paper", yref="paper", x0=fx(x0), x1=fx(x1),
                           y0=fy(yy), y1=fy(yy), line=dict(color=col, width=2.2)))
        text(xr, yy, lab, xanchor="right")


text(1382, 19, "distance (µm)", xanchor="left")
legend(UM_LABELS, RAINBOW10, [51 + 31.9 * k for k in range(10)], 1401, 1424, 1475)
legend(ROW2_LABELS, RAINBOW10, [401 + 32.2 * k for k in range(10)], 1392, 1416, 1480)
text(1382, 794, "distance (mm)", xanchor="left")
legend(MM_LABELS, RAINBOW5, [830 + 29.5 * k for k in range(5)], 1403, 1427, 1463)

layout["annotations"] = annotations
layout["shapes"] = shapes
fig.update_layout(**layout)
fig.write_html("out.html")
